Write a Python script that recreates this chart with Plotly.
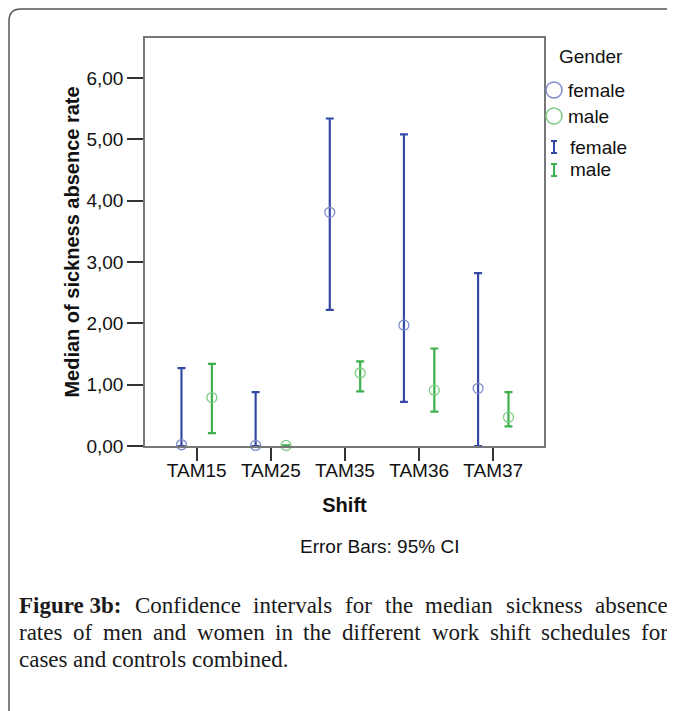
import plotly.graph_objects as go

# ---- data ----
shifts = ["TAM15", "TAM25", "TAM35", "TAM36", "TAM37"]
female_median = [0.02, 0.01, 3.81, 1.97, 0.94]
female_lower = [0.00, 0.00, 2.22, 0.72, 0.00]
female_upper = [1.27, 0.88, 5.34, 5.08, 2.82]
male_median = [0.79, 0.01, 1.19, 0.91, 0.47]
male_lower = [0.21, 0.01, 0.89, 0.56, 0.32]
male_upper = [1.34, 0.01, 1.38, 1.59, 0.88]
y_ticks = [0, 1, 2, 3, 4, 5, 6]
y_tick_labels = ["0,00", "1,00", "2,00", "3,00", "4,00", "5,00", "6,00"]

caption_lines = [
    ("Figure 3b: Confidence intervals for the median sickness absence", True),
    ("rates of men and women in the different work shift schedules for", True),
    ("cases and controls combined.", False),
]

W, H = 675, 711
OFF = 8  # page body margin
L, T = 145 - OFF, 38 - OFF
PW, PH = 399, 408
R, B = W - L - PW, H - T - PH

def px(x):
    return (x - OFF - L) / PW

def py(y):
    return (H - B - (y - OFF)) / PH

BLUE = "#3449a6"
BLUE_M = "#7d8bcc"
GREEN = "#3cb04a"
GREEN_M = "#7fcc84"
FONT = "Liberation Sans, Arial, sans-serif"
SERIF = "Liberation Serif, Times New Roman, serif"

idx = list(range(len(shifts)))
fx = [i - 0.205 for i in idx]
mx = [i + 0.205 for i in idx]

fig = go.Figure()
fig.add_trace(go.Scatter(
    x=fx, y=female_median, mode="markers", name="female",
    marker=dict(symbol="circle-open", size=10, color=BLUE_M, line=dict(width=1.3, color=BLUE_M)),
    error_y=dict(type="data", symmetric=False,
                 array=[u - m for u, m in zip(female_upper, female_median)],
                 arrayminus=[m - l for m, l in zip(female_median, female_lower)],
                 color=BLUE, thickness=2.2, width=4),
    cliponaxis=False, showlegend=False))
fig.add_trace(go.Scatter(
    x=mx, y=male_median, mode="markers", name="male",
    marker=dict(symbol="circle-open", size=10, color=GREEN_M, line=dict(width=1.3, color=GREEN_M)),
    error_y=dict(type="data", symmetric=False,
                 array=[u - m for u, m in zip(male_upper, male_median)],
                 arrayminus=[m - l for m, l in zip(male_median, male_lower)],
                 color=GREEN, thickness=2.2, width=4),
    cliponaxis=False, showlegend=False))

shapes = []
annotations = []

# legend (manual)
annotations.append(dict(text="Gender", x=px(557), y=py(57), xref="paper", yref="paper",
                        xanchor="left", yanchor="middle", showarrow=False,
                        font=dict(family=FONT, size=19, color="#111")))
for cy, col, lab in [(90, BLUE_M, "female"), (116, GREEN_M, "male")]:
    shapes.append(dict(type="circle", xref="paper", yref="paper",
                       xsizemode="pixel", ysizemode="pixel",
                       xanchor=px(554), yanchor=py(cy),
                       x0=-8, x1=8, y0=-8, y1=8,
                       line=dict(color=col, width=1.5)))
    annotations.append(dict(text=lab, x=px(566), y=py(cy), xref="paper", yref="paper",
                            xanchor="left", yanchor="middle", showarrow=False,
                            font=dict(family=FONT, size=19, color="#111")))
for cy, col, lab in [(147, BLUE, "female"), (170, GREEN, "male")]:
    for (a, b, c, d) in [(0, -6, 0, 6), (-3, -6, 3, -6), (-3, 6, 3, 6)]:
        shapes.append(dict(type="line", xref="paper", yref="paper",
                           xsizemode="pixel", ysizemode="pixel",
                           xanchor=px(554), yanchor=py(cy),
                           x0=a, y0=b, x1=c, y1=d,
                           line=dict(color=col, width=2)))
    annotations.append(dict(text=lab, x=px(568), y=py(cy), xref="paper", yref="paper",
                            xanchor="left", yanchor="middle", showarrow=False,
                            font=dict(family=FONT, size=19, color="#111")))

# footnote
annotations.append(dict(text="Error Bars: 95% CI", x=px(379), y=py(546), xref="paper", yref="paper",
                        xanchor="center", yanchor="middle", showarrow=False,
                        font=dict(family=FONT, size=19, color="#111")))

# caption: justified text using Times-compatible metrics (Liberation Serif)
REG = dict(zip("abcdefghijklmnopqrstuvwxyz",
               [444, 500, 444, 500, 444, 333, 500, 500, 278, 278, 500, 278, 778,
                500, 500, 500, 500, 333, 389, 278, 500, 500, 722, 500, 500, 444]))
REG.update({"C": 667, ".": 250, ":": 278, " ": 250, "3": 500})
BOLD = dict(REG)
BOLD.update({"F": 611, "i": 278, "g": 500, "u": 556, "r": 444, "e": 444,
             "3": 500, "b": 556, ":": 333, " ": 250})
CAP_SIZE = 23
LEFT, RIGHT = 17, 666

def wwidth(word, bold=False):
    tbl = BOLD if bold else REG
    return sum(tbl.get(ch, 500) for ch in word) / 1000.0 * CAP_SIZE

for li, ((text, justify), yy) in enumerate(zip(caption_lines, [605, 632, 659])):
    words = text.split(" ")
    if li == 0:
        units = [("Figure 3b:", True)] + [(w, False) for w in words[2:]]
    else:
        units = [(w, False) for w in words]
    widths = [wwidth(w, b) for w, b in units]
    if justify and len(units) > 1:
        gap = (RIGHT - LEFT - sum(widths)) / (len(units) - 1)
    else:
        gap = 0.25 * CAP_SIZE
    xx = LEFT
    for (w, b), wd in zip(units, widths):
        annotations.append(dict(text=f"<b>{w}</b>" if b else w, x=px(xx), y=py(yy),
                                xref="paper", yref="paper",
                                xanchor="left", yanchor="middle", showarrow=False,
                                font=dict(family=SERIF, size=CAP_SIZE, color="#1a1a1a")))
        xx += wd + gap

# outer rounded border (top and left), kept inside the drawable page area
r = 12
x0p, y0p = 9, 9
BC = dict(color="#555", width=1.5)
shapes.append(dict(type="line", xref="paper", yref="paper",
                   x0=px(x0p), y0=py(y0p + r), x1=px(x0p), y1=py(H + 6), line=BC))
shapes.append(dict(type="line", xref="paper", yref="paper",
                   x0=px(x0p + r), y0=py(y0p), x1=px(W + 6), y1=py(y0p), line=BC))
path = (f"M {px(x0p)} {py(y0p + r)} Q {px(x0p)} {py(y0p)} {px(x0p + r)} {py(y0p)}")
shapes.append(dict(type="path", xref="paper", yref="paper", path=path, line=BC))

fig.update_layout(
    width=W, height=H,
    margin=dict(l=L, r=R, t=T, b=B),
    paper_bgcolor="white", plot_bgcolor="white",
    shapes=shapes, annotations=annotations,
    font=dict(family=FONT, color="#111"),
    xaxis=dict(range=[-0.697, 4.684], tickvals=idx, ticktext=shifts,
               showgrid=False, zeroline=False, showline=True, mirror=True,
               linecolor="#777", linewidth=1.5, ticks="outside", ticklen=13,
               tickcolor="#333", tickwidth=1.5, ticklabelstandoff=-7,
               tickfont=dict(family=FONT, size=19, color="#111"),
               title=dict(text="<b>Shift</b>", font=dict(family=FONT, size=20, color="#111"), standoff=18)),
    yaxis=dict(range=[0, 6.653], tickvals=y_ticks, ticktext=y_tick_labels,
               showgrid=False, zeroline=False, showline=True, mirror=True,
               linecolor="#777", linewidth=1.5, ticks="outside", ticklen=16,
               tickcolor="#333", tickwidth=1.5,
               tickfont=dict(family=FONT, size=19, color="#111"),
               title=dict(text="<b>Median of sickness absence rate</b>",
                          font=dict(family=FONT, size=20, color="#111"), standoff=1)),
)

fig.write_html("out.html")
